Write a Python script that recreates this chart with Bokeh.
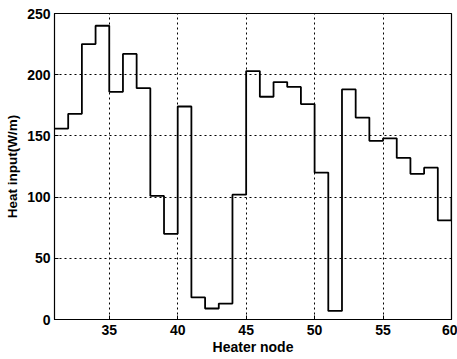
from bokeh.plotting import figure
from bokeh.embed import file_html
from bokeh.resources import INLINE
from bokeh.models import FixedTicker, Range1d

nodes = list(range(31, 61))
heat = [156, 168, 225, 240, 186, 217, 189, 101, 70, 174,
        18, 9, 13, 102, 203, 182, 194, 190, 176, 120,
        7, 188, 165, 146, 148, 132, 119, 124, 81, 100]
x_ticks = [35, 40, 45, 50, 55, 60]
y_ticks = [0, 50, 100, 150, 200, 250]

p = figure(width=457, height=359, output_backend="svg", toolbar_location=None,
           x_range=Range1d(31, 60), y_range=Range1d(0, 250),
           min_border_left=54, min_border_right=6, min_border_top=13, min_border_bottom=40)
p.background_fill_color = "white"
p.border_fill_color = "white"
p.outline_line_color = "black"
p.outline_line_width = 1.2

p.step(nodes, heat, mode="after", line_color="black", line_width=1.8)

FONT = "Liberation Sans"
for ax, ticks in ((p.xaxis, x_ticks), (p.yaxis, y_ticks)):
    ax.ticker = FixedTicker(ticks=ticks)
    ax.major_tick_in = 4
    ax.major_tick_out = 0
    ax.minor_tick_in = 0
    ax.minor_tick_out = 0
    ax.axis_line_color = "black"
    ax.major_tick_line_color = "black"
    ax.major_label_text_font = FONT
    ax.major_label_text_font_size = "14px"
    ax.major_label_text_font_style = "bold"
    ax.major_label_text_color = "black"
    ax.axis_label_text_font = FONT
    ax.axis_label_text_font_size = "14px"
    ax.axis_label_text_font_style = "bold"
    ax.axis_label_text_color = "black"

p.xaxis.axis_label = "Heater node"
p.yaxis.axis_label = "Heat input(W/m)"
p.yaxis.axis_label_text_font_size = "13.5px"
p.xaxis.major_label_standoff = 5
p.xaxis.axis_label_standoff = 1
p.yaxis.major_label_standoff = 4
p.yaxis.axis_label_standoff = 4

p.grid.grid_line_color = "black"
p.grid.grid_line_dash = "2 3"
p.grid.grid_line_width = 1
p.xgrid.ticker = FixedTicker(ticks=[35, 40, 45, 50, 55])
p.ygrid.ticker = FixedTicker(ticks=[50, 100, 150, 200])

open("out.html", "w").write(file_html(p, INLINE))
